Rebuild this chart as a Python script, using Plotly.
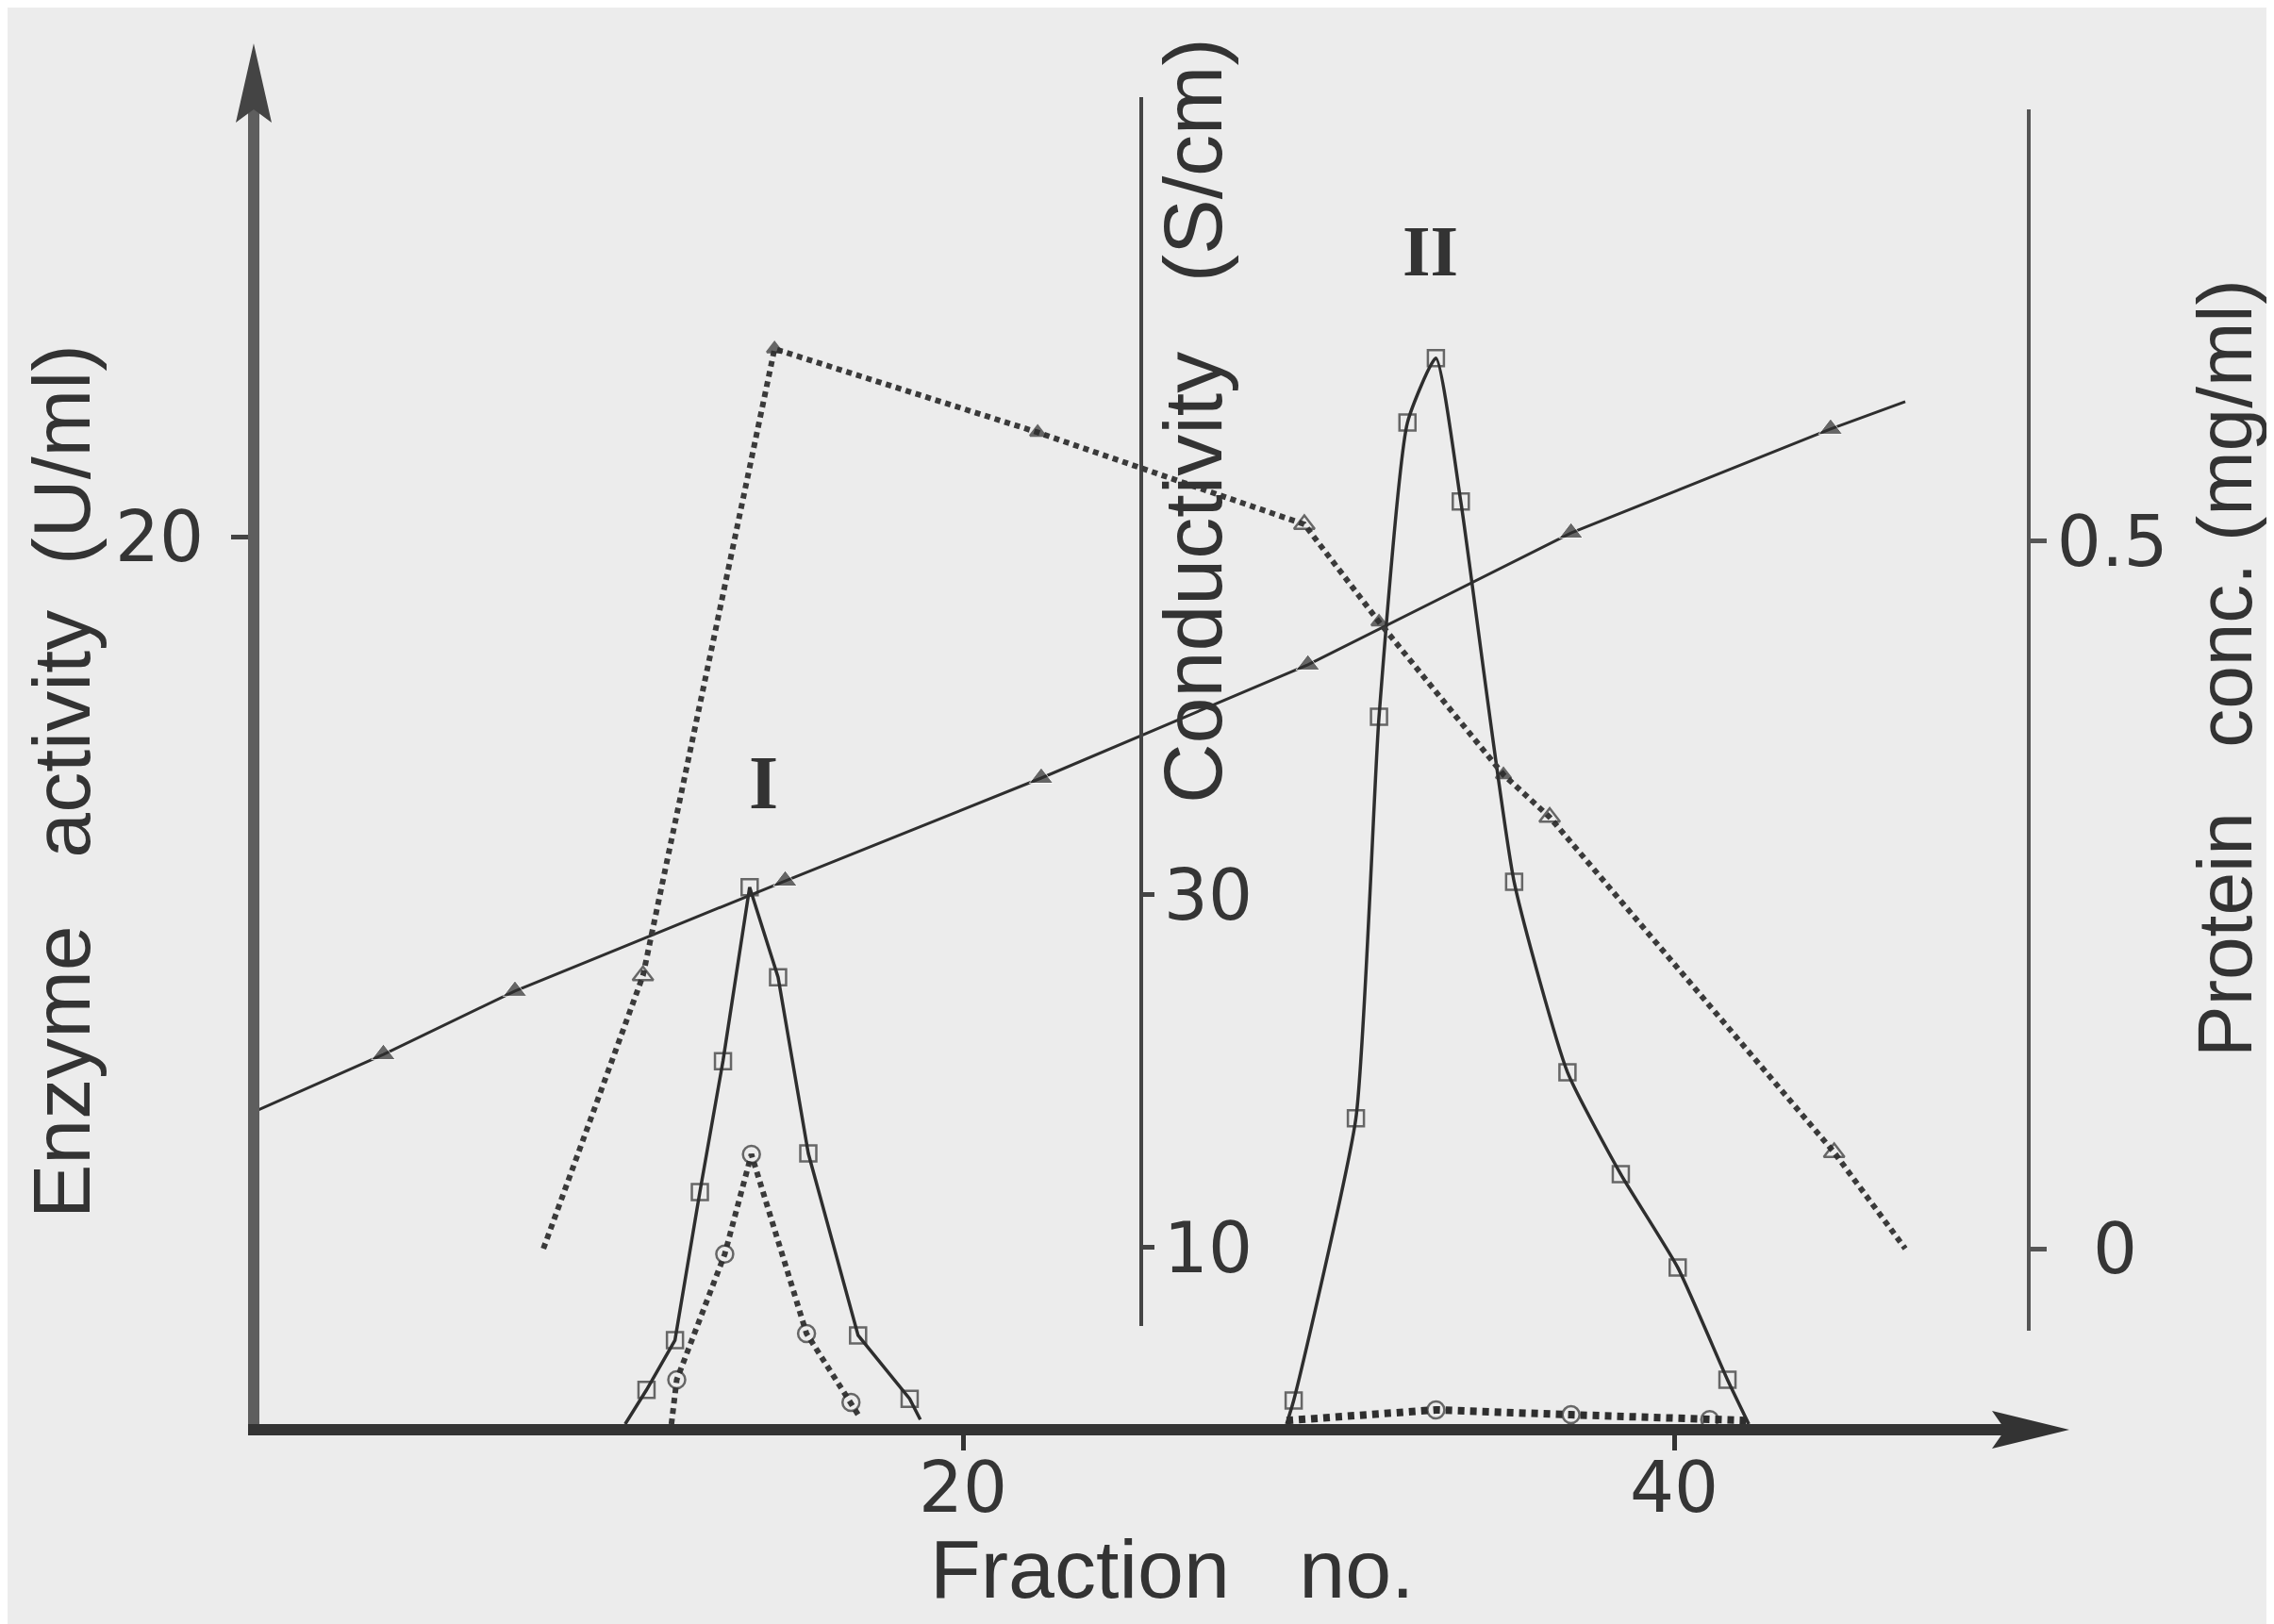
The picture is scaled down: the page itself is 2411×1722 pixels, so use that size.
import plotly.graph_objects as go

W, H = 2411, 1722


def px(x):
    return x / W


def py(y):
    return 1 - y / H


# ---------------- data ----------------
fraction_ticks = [20, 40]
enzyme_ticks = [20]
cond_ticks = [10, 30]
prot_ticks = [0, 0.5]
prot_ticktext = ["\u00a0\u20090", "0.5"]

# conductivity (filled triangles, solid straight line)
cond_frac = [0, 3.7, 7.4, 15.0, 22.2, 29.7, 37.1, 44.4, 46.5]
cond_val = [17.65, 20.96, 24.55, 30.8, 36.63, 43.05, 50.53, 56.42, 57.97]

# protein concentration (triangles, dotted line)
prot_frac = [8.2, 11.0, 14.7, 22.1, 29.6, 31.7, 35.2, 36.5, 44.5, 46.5]
prot_val = [0.0, 0.193, 0.636, 0.577, 0.512, 0.443, 0.335, 0.305, 0.068, 0.0]

# enzyme activity (open squares, solid line) - peak I and peak II
act_I_frac = [10.5, 11.1, 11.9, 12.6, 13.25, 14.0, 14.8, 15.65, 17.05, 18.5, 18.8]
act_I_val = [0.0, 0.77, 1.89, 5.23, 8.18, 12.1, 10.07, 6.1, 2.0, 0.57, 0.1]
act_II_frac = [29.1, 29.3, 31.05, 31.7, 32.5, 33.3, 34.0, 35.5, 37.0, 38.5, 40.1, 41.5, 42.1]
act_II_val = [0.0, 0.53, 6.89, 15.94, 22.57, 24.02, 20.79, 12.22, 7.93, 5.63, 3.53, 1.0, 0.0]

# second activity (open circles, dotted line) - peak I and peak II
circ_I_frac = [11.8, 11.95, 13.3, 14.05, 15.6, 16.85, 17.1]
circ_I_val = [0.0, 1.0, 3.83, 6.08, 2.04, 0.49, 0.15]
circ_II_frac = [29.1, 33.3, 37.1, 41.0, 42.1]
circ_II_val = [0.08, 0.32, 0.21, 0.1, 0.08]

# ---------------- style ----------------
INK = "#2e2e2e"
BG = "#ececec"
CLEAR = "rgba(0,0,0,0)"
TICKFONT = dict(family="DejaVu Sans", size=74, color="#353535")


def end_sizes(n, s):
    return [0] + [s] * (n - 2) + [0]


fig = go.Figure()

# conductivity
fig.add_trace(go.Scatter(
    x=cond_frac, y=cond_val, yaxis="y2", mode="lines+markers",
    line=dict(color=INK, width=3),
    marker=dict(symbol="triangle-up", size=end_sizes(len(cond_frac), 22), color=INK),
    cliponaxis=False, showlegend=False))

# protein
open_idx = {1, 4, 7, 8}
prot_sym = ["triangle-up-open" if i in open_idx else "triangle-up" for i in range(len(prot_frac))]
prot_size = [0 if i in (0, len(prot_frac) - 1) else (19 if i in open_idx else 14) for i in range(len(prot_frac))]
fig.add_trace(go.Scatter(
    x=prot_frac, y=prot_val, yaxis="y3", mode="lines+markers",
    line=dict(color="#3a3a3a", width=6, dash="6px,5px"),
    marker=dict(symbol=prot_sym, size=prot_size, color=INK, line=dict(width=2.5, color=INK)),
    cliponaxis=False, showlegend=False))

# enzyme activity peaks
fig.add_trace(go.Scatter(
    x=act_I_frac, y=act_I_val, yaxis="y", mode="lines+markers",
    line=dict(color=INK, width=3.5),
    marker=dict(symbol="square-open", size=end_sizes(len(act_I_frac), 17), color=INK, line=dict(width=2.5)),
    cliponaxis=False, showlegend=False))
fig.add_trace(go.Scatter(
    x=act_II_frac, y=act_II_val, yaxis="y", mode="lines+markers",
    line=dict(color=INK, width=3.5, shape="spline", smoothing=0.5),
    marker=dict(symbol="square-open", size=end_sizes(len(act_II_frac), 17), color=INK, line=dict(width=2.5)),
    cliponaxis=False, showlegend=False))

# circles
fig.add_trace(go.Scatter(
    x=circ_I_frac, y=circ_I_val, yaxis="y", mode="lines+markers",
    line=dict(color="#3a3a3a", width=6, dash="6px,5px"),
    marker=dict(symbol="circle-open", size=end_sizes(len(circ_I_frac), 18), color=INK, line=dict(width=2.5)),
    cliponaxis=False, showlegend=False))
fig.add_trace(go.Scatter(
    x=circ_II_frac, y=circ_II_val, yaxis="y", mode="lines+markers",
    line=dict(color=INK, width=8, dash="7px,6px"),
    marker=dict(symbol="circle-open", size=end_sizes(len(circ_II_frac), 18), color=INK, line=dict(width=2.5)),
    cliponaxis=False, showlegend=False))

x0 = 259.0
xs = 37.7
y0 = 1502.0
ys = 47.05

fig.update_layout(
    width=W, height=H, autosize=False,
    margin=dict(l=0, r=0, t=0, b=0),
    paper_bgcolor=BG, plot_bgcolor=CLEAR,
    xaxis=dict(domain=[px(267), px(2150)], range=[(267 - x0) / xs, (2150 - x0) / xs],
               showline=True, linewidth=12, linecolor="#333333",
               ticks="outside", tickvals=fraction_ticks, ticklen=16, tickwidth=5, tickcolor="#333333",
               tickfont=TICKFONT, showgrid=False, zeroline=False, anchor="y", ticklabelstandoff=-24),
    yaxis=dict(domain=[py(1502), py(75)], range=[0, (1502 - 75) / ys],
               showline=True, linewidth=12, linecolor="#5e5e5e",
               ticks="outside", tickvals=enzyme_ticks, ticklen=18, tickwidth=5, tickcolor="#444444",
               tickfont=TICKFONT, showgrid=False, zeroline=False, anchor="x", ticklabelstandoff=14),
    yaxis2=dict(domain=[py(1398), py(95)], range=[5.56, 75.24],
                anchor="free", position=px(1202), side="right",
                showline=True, linewidth=4, linecolor="#444444",
                ticks="outside", tickvals=cond_ticks, ticklen=12, tickwidth=5, tickcolor="#444444",
                tickfont=TICKFONT, showgrid=False, zeroline=False, ticklabelstandoff=-5),
    yaxis3=dict(domain=[py(1403), py(108)], range=[-0.058, 0.8053],
                anchor="free", position=px(2143), side="right",
                showline=True, linewidth=4, linecolor="#555555",
                ticks="outside", tickvals=prot_ticks, ticktext=prot_ticktext, ticklen=17, tickwidth=5,
                tickcolor="#555555", tickfont=TICKFONT, showgrid=False, zeroline=False, ticklabelstandoff=-4),
)

NB = "\u00a0"
title_font = dict(family="Liberation Sans, Arial, sans-serif", color="#333333")
annotations = [
    dict(text=f"Enzyme{NB*3}activity{NB*2}(U/ml)", x=px(57), y=py(821), textangle=-90,
         font=dict(size=86, **title_font)),
    dict(text=f"Fraction{NB*3}no.", x=px(1235), y=py(1655),
         font=dict(size=88, **title_font)),
    dict(text=f"Conductivity{NB*3}(S/cm)", x=px(1256), y=py(438), textangle=-90,
         font=dict(size=88, **title_font)),
    dict(text=f"Protein{NB*3}conc.{NB}(mg/ml)", x=px(2350), y=py(701), textangle=-90,
         font=dict(size=82, **title_font)),
    dict(text="<b>I</b>", x=px(801), y=py(822),
         font=dict(size=80, family="Liberation Serif, Times New Roman, serif", color="#333333")),
    dict(text="<b>II</b>", x=px(1508), y=py(258),
         font=dict(size=76, family="Liberation Serif, Times New Roman, serif", color="#333333")),
]
for a in annotations:
    a.update(xref="paper", yref="paper", showarrow=False, xanchor="center", yanchor="middle")
fig.update_layout(annotations=annotations)


def path(points):
    s = "M " + " L ".join(f"{px(x):.5f},{py(y):.5f}" for x, y in points) + " Z"
    return s


fig.update_layout(shapes=[
    dict(type="path", xref="paper", yref="paper",
         path=path([(261, 38), (280, 122), (261, 108), (242, 122)]),
         fillcolor="#444444", line=dict(width=0)),
    dict(type="path", xref="paper", yref="paper",
         path=path([(2186, 1508), (2104, 1488), (2118, 1508), (2104, 1528)]),
         fillcolor="#333333", line=dict(width=0)),
])

fig.write_html("out.html")
